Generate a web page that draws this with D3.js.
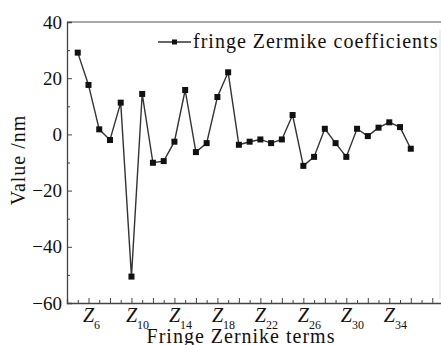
<!DOCTYPE html>
<html>
<head>
<meta charset="utf-8">
<script src="https://cdn.jsdelivr.net/npm/d3@7"></script>
<style>
  body { margin: 0; background: #fff; }
  svg { display: block; }
</style>
</head>
<body>
<svg id="chart" width="441" height="345" font-family="Liberation Serif"></svg>
<script>
// fringe Zernike term index (Z5 .. Z36)
const terms = [5, 6, 7, 8, 9, 10, 11, 12, 13, 14, 15, 16, 17, 18, 19, 20,
               21, 22, 23, 24, 25, 26, 27, 28, 29, 30, 31, 32, 33, 34, 35, 36];
// coefficient values, nm
const values = [29.1, 17.6, 1.8, -2.0, 11.3, -50.6, 14.4, -10.1, -9.5, -2.6, 15.8, -6.3,
                -3.1, 13.3, 22.1, -3.7, -2.6, -1.8, -3.1, -1.8, 6.9, -11.2, -8.0, 2.0,
                -3.1, -8.0, 2.0, -0.6, 2.4, 4.3, 2.6, -5.1];
const xLabelTerms = [6, 10, 14, 18, 22, 26, 30, 34];
const xTickTerms = [4, 5, 6, 7, 8, 9, 10, 11, 12, 13, 14, 15, 16, 17, 18, 19, 20, 21,
                    22, 23, 24, 25, 26, 27, 28, 29, 30, 31, 32, 33, 34, 35, 36, 37, 38];
const yLabelTicks = [-60, -40, -20, 0, 20, 40];
const yMinorTicks = [-50, -30, -10, 10, 30];
const legendLabel = 'fringe Zermike coefficients';

const FONT = 'Liberation Serif';
const svg = d3.select('#chart');
const margins = { left: 67, top: 22, right: 0, bottom: 42 };
const width = 441, height = 345;
const innerHeight = height - margins.top - margins.bottom;

const x = d3.scaleLinear().domain([4, 39]).range([margins.left, 443]);
const y = d3.scaleLinear().domain([-60, 40]).range([margins.top + innerHeight, margins.top]);

const data = terms.map((t, i) => ({ term: t, value: values[i] }));
const axisColor = '#444';
const textColor = '#111';

// frame: top and (faint) right edge
svg.append('line')
  .attr('x1', margins.left).attr('x2', width)
  .attr('y1', y(40)).attr('y2', y(40))
  .attr('stroke', '#555').attr('stroke-width', 1.2);
svg.append('line')
  .attr('x1', 440).attr('x2', 440)
  .attr('y1', y(40) + 8).attr('y2', y(-60) - 4)
  .attr('stroke', '#ddd').attr('stroke-width', 1);

// y axis
const yAxisG = svg.append('g')
  .attr('transform', `translate(${margins.left},0)`)
  .call(d3.axisLeft(y).tickValues(yLabelTicks).tickSize(-5).tickPadding(5)
    .tickFormat(d => d < 0 ? '\u2212' + Math.abs(d) : d));
yAxisG.attr('font-family', FONT).attr('font-size', 19);
yAxisG.select('.domain').attr('stroke', axisColor).attr('stroke-width', 1.3);
yAxisG.selectAll('.tick line').attr('stroke', axisColor);
yAxisG.selectAll('.tick text')
  .attr('font-family', FONT).attr('font-size', 19).attr('fill', textColor);

const yMinorG = svg.append('g')
  .attr('transform', `translate(${margins.left},0)`)
  .call(d3.axisLeft(y).tickValues(yMinorTicks).tickSize(-3).tickFormat(''));
yMinorG.select('.domain').remove();
yMinorG.selectAll('.tick line').attr('stroke', axisColor);

// x axis, inward ticks alternating long/short
const xAxisG = svg.append('g')
  .attr('transform', `translate(0,${y(-60)})`)
  .call(d3.axisBottom(x).tickValues(xTickTerms).tickSize(-4).tickFormat(''));
xAxisG.select('.domain').attr('stroke', axisColor).attr('stroke-width', 1.3);
xAxisG.selectAll('.tick line')
  .attr('stroke', axisColor)
  .attr('y2', d => d % 2 === 0 ? -5 : -3);

// x labels: italic Z centred on the tick, subscript hanging right
const xLabelG = svg.append('g')
  .attr('transform', `translate(0,${y(-60)})`)
  .call(d3.axisBottom(x).tickValues(xLabelTerms).tickSize(0).tickFormat(''));
xLabelG.attr('font-family', FONT).attr('font-size', 20);
xLabelG.select('.domain').remove();
xLabelG.selectAll('.tick text').remove();
xLabelG.selectAll('.tick').append('text')
  .attr('y', 19)
  .attr('x', -6)
  .attr('text-anchor', 'start')
  .attr('font-family', FONT)
  .attr('fill', textColor)
  .each(function (d) {
    const t = d3.select(this);
    t.append('tspan')
      .attr('font-size', 20).attr('font-style', 'italic')
      .text('Z');
    t.append('tspan')
      .attr('font-size', 12).attr('dy', 7)
      .text(d);
  });

// axis titles
svg.append('text')
  .attr('x', 241).attr('y', 343)
  .attr('text-anchor', 'middle')
  .attr('font-family', FONT)
  .attr('font-size', 20).attr('letter-spacing', 1).attr('fill', textColor)
  .text('Fringe Zernike terms');

svg.append('text')
  .attr('transform', `translate(25,${160}) rotate(-90)`)
  .attr('text-anchor', 'middle')
  .attr('font-family', FONT)
  .attr('font-size', 20).attr('letter-spacing', 1).attr('fill', textColor)
  .text('Value /nm');

// data line + markers
const line = d3.line().x(d => x(d.term)).y(d => y(d.value));
svg.append('path')
  .datum(data)
  .attr('d', line)
  .attr('fill', 'none')
  .attr('stroke', '#333')
  .attr('stroke-width', 1.4);

svg.append('g')
  .selectAll('rect.data')
  .data(data)
  .enter()
  .append('rect')
  .attr('class', 'data')
  .attr('x', d => x(d.term) - 3)
  .attr('y', d => y(d.value) - 3)
  .attr('width', 6)
  .attr('height', 6)
  .attr('fill', '#111');

// legend
const legend = svg.append('g').attr('transform', 'translate(158,42)');
legend.append('line')
  .attr('x1', 0).attr('x2', 33).attr('y1', 0).attr('y2', 0)
  .attr('stroke', '#333').attr('stroke-width', 1.4);
legend.append('rect')
  .attr('x', 14).attr('y', -2.5).attr('width', 5).attr('height', 5)
  .attr('fill', '#111');
legend.append('text')
  .attr('x', 35).attr('y', 6)
  .attr('font-family', FONT)
  .attr('font-size', 20).attr('letter-spacing', 1).attr('fill', textColor)
  .text(legendLabel);
</script>
</body>
</html>
